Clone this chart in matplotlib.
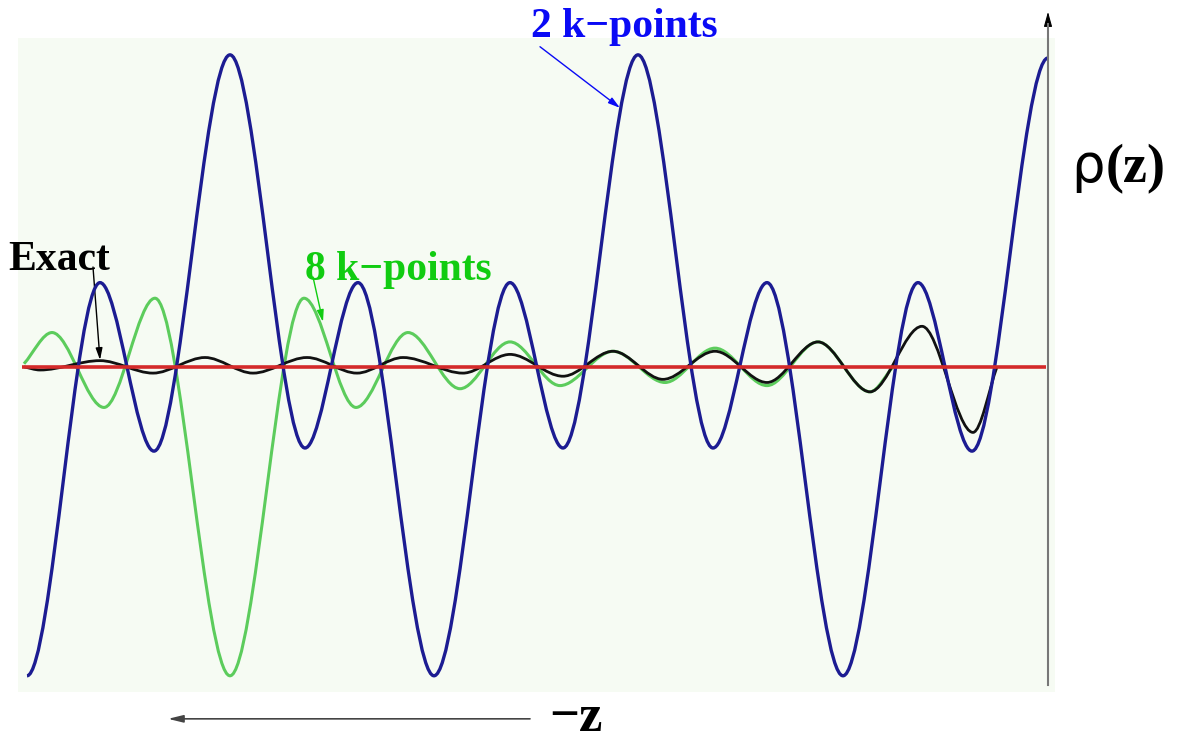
"""Charge density rho(z): k-point sampling vs exact"""

import matplotlib
matplotlib.use("Agg")
import matplotlib.pyplot as plt
from matplotlib.path import Path
from matplotlib.patches import PathPatch

# turning points of each curve: position along the slab, density (normalised)
z_2k = [0.05, 0.78, 1.32, 2.08, 2.83, 3.36, 4.12, 4.88, 5.41, 6.16, 6.91,
        7.45, 8.21, 8.96, 9.50, 10.26]
rho_2k = [-0.99, 0.27, -0.27, 1.00, -0.26, 0.27, -0.99, 0.27, -0.26, 1.00,
          -0.26, 0.27, -0.99, 0.27, -0.27, 0.99]

z_8k = [0.02, 0.30, 0.82, 1.33, 2.08, 2.82, 3.34, 3.86, 4.38, 4.88, 5.38,
        5.91, 6.43, 6.93, 7.45, 7.96, 8.48, 8.71]
rho_8k = [0.01, 0.11, -0.13, 0.22, -0.99, 0.22, -0.13, 0.11, -0.07, 0.08,
          -0.06, 0.05, -0.05, 0.06, -0.06, 0.08, -0.08, 0.0]

z_exact = [0.02, 0.18, 0.78, 1.31, 1.83, 2.31, 2.85, 3.35, 3.81, 4.41, 4.88,
           5.41, 5.91, 6.41, 6.93, 7.45, 7.96, 8.48, 9.00, 9.51, 9.75]
rho_exact = [0.0, -0.01, 0.02, -0.02, 0.03, -0.02, 0.03, -0.02, 0.03, -0.02,
             0.04, -0.03, 0.05, -0.04, 0.05, -0.05, 0.08, -0.08, 0.13, -0.21,
             0.0]

z_zero = [0.0, 10.24]
rho_zero = [0.0, 0.0]


def smooth(zs, rs, k=0.33, free_start=False, free_end=False):
    # cubic segments with flat tangents at the turning points
    verts = [(zs[0], rs[0])]
    codes = [Path.MOVETO]
    n = len(zs) - 1
    for i in range(n):
        dz = zs[i + 1] - zs[i]
        dr = rs[i + 1] - rs[i]
        c1 = (zs[i] + k * dz, rs[i] + (k * dr if (free_start and i == 0) else 0))
        c2 = (zs[i + 1] - k * dz,
              rs[i + 1] - (k * dr if (free_end and i == n - 1) else 0))
        verts += [c1, c2, (zs[i + 1], rs[i + 1])]
        codes += [Path.CURVE4] * 3
    return Path(verts, codes)


W, H = 1178, 742
fig = plt.figure(figsize=(W / 100, H / 100), dpi=100)
ax = fig.add_axes([18 / W, 1 - 692 / H, (1055 - 18) / W, (692 - 38) / H])
ax.set_facecolor("#f6fbf3")
ax.set_xlim(-0.04, 10.33)
ax.set_ylim(-1.042, 1.054)
for s in ax.spines.values():
    s.set_visible(False)
ax.set_xticks([])
ax.set_yticks([])

ax.add_patch(PathPatch(smooth(z_8k, rho_8k, free_start=True, free_end=True),
                       fill=False, edgecolor="#5ccc5c", lw=2.2, zorder=2))
ax.add_patch(PathPatch(smooth(z_exact, rho_exact, free_start=True, free_end=True),
                       fill=False, edgecolor="#111111", lw=2.0, zorder=3))
ax.add_patch(PathPatch(smooth(z_2k, rho_2k), fill=False,
                       edgecolor="#1c1c92", lw=2.4, zorder=4))
ax.plot(z_zero, rho_zero, color="#d42a2a", lw=2.6, zorder=5,
        solid_capstyle="butt")

# vertical rho axis with arrow head
ax.plot([10.26, 10.26], [-1.019, 1.10], color="#777777", lw=1.5,
        clip_on=False, zorder=6)
ax.annotate("", xy=(10.26, 1.138), xytext=(10.26, 1.09),
            arrowprops=dict(arrowstyle="-|>,head_length=0.9,head_width=0.25",
                            color="black", lw=0.8, shrinkA=0, shrinkB=0),
            annotation_clip=False)

# -z direction arrow below
ax.annotate("", xy=(1.46, -1.128), xytext=(5.08, -1.128),
            arrowprops=dict(arrowstyle="-|>,head_length=0.9,head_width=0.22",
                            color="#444444", lw=1.2, shrinkA=0, shrinkB=0),
            annotation_clip=False)

serif = "Liberation Serif"
ax.text(5.27, -1.167, "\u2212z", fontsize=38, fontweight="bold",
        family=serif, color="black")
ax.text(10.49, 0.593, "\u03c1", fontsize=38, family="DejaVu Sans",
        color="black")
ax.text(10.84, 0.593, "(z)", fontsize=39, fontweight="bold", family=serif,
        color="black")

# curve labels
ax.text(6.02, 1.058, "2 k\u2212points", fontsize=30, fontweight="bold",
        family=serif, color="#0a0af5", ha="center")
ax.annotate("", xy=(5.98, 0.83), xytext=(5.18, 1.026),
            arrowprops=dict(arrowstyle="-|>,head_length=0.7,head_width=0.2",
                            color="#0a0af5", lw=1.0, shrinkA=0, shrinkB=0),
            annotation_clip=False)

ax.text(2.83, 0.279, "8 k\u2212points", fontsize=30, fontweight="bold",
        family=serif, color="#11cc11")
ax.annotate("", xy=(3.01, 0.144), xytext=(2.91, 0.288),
            arrowprops=dict(arrowstyle="-|>,head_length=0.7,head_width=0.2",
                            color="#11cc11", lw=1.0, shrinkA=0, shrinkB=0))

ax.text(-0.14, 0.311, "Exact", fontsize=30, fontweight="bold",
        family=serif, color="black")
ax.annotate("", xy=(0.78, 0.022), xytext=(0.71, 0.32),
            arrowprops=dict(arrowstyle="-|>,head_length=0.7,head_width=0.2",
                            color="black", lw=1.0, shrinkA=0, shrinkB=0))

fig.savefig("out.png", dpi=100)
